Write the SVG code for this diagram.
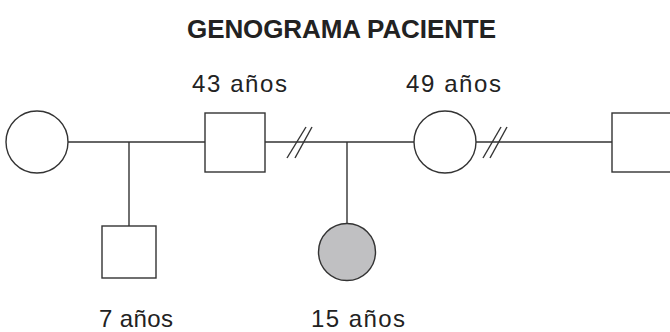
<svg xmlns="http://www.w3.org/2000/svg" width="670" height="332" viewBox="0 0 670 332">
<style>
.ln{stroke:#333;stroke-width:1.4;fill:none}
.sh{stroke:#333;stroke-width:1.4;fill:#fff}
.t{font-family:"Liberation Sans",Arial,sans-serif;fill:#222}
.lbl{font-size:24px}
</style>
<rect width="670" height="332" fill="#fff"/>
<text class="t" x="187" y="38" font-size="26" font-weight="bold" textLength="309" lengthAdjust="spacing">GENOGRAMA PACIENTE</text>
<g id="connectors">
<line class="ln" x1="68" y1="142" x2="205" y2="142"/>
<line class="ln" x1="129" y1="142" x2="129" y2="226"/>
<line class="ln" x1="265" y1="142" x2="414" y2="142"/>
<line class="ln" x1="347" y1="142" x2="347" y2="223"/>
<line class="ln" x1="476" y1="142" x2="612" y2="142"/>
<line class="ln" x1="287" y1="158" x2="306" y2="127"/>
<line class="ln" x1="295" y1="158" x2="312" y2="127"/>
<line class="ln" x1="483" y1="158" x2="501" y2="127"/>
<line class="ln" x1="490" y1="158" x2="507" y2="127"/>
</g>
<g id="mother1"><circle class="sh" cx="37" cy="142" r="31"/></g>
<g id="father43"><rect class="sh" x="205" y="113" width="60" height="59"/>
<text class="t lbl" x="192" y="92" textLength="95" lengthAdjust="spacing">43 años</text></g>
<g id="mother49"><circle class="sh" cx="445" cy="142" r="31"/>
<text class="t lbl" x="406" y="92" textLength="95" lengthAdjust="spacing">49 años</text></g>
<g id="partner"><rect class="sh" x="612" y="113" width="62" height="59"/></g>
<g id="son7"><rect class="sh" x="102" y="226" width="54" height="52"/>
<text class="t lbl" x="99" y="327" textLength="74" lengthAdjust="spacing">7 años</text></g>
<g id="patient15"><circle cx="347" cy="252" r="28.5" fill="#c0c0c2" stroke="#333" stroke-width="1.4"/>
<text class="t lbl" x="311" y="327" textLength="94" lengthAdjust="spacing">15 años</text></g>
</svg>
